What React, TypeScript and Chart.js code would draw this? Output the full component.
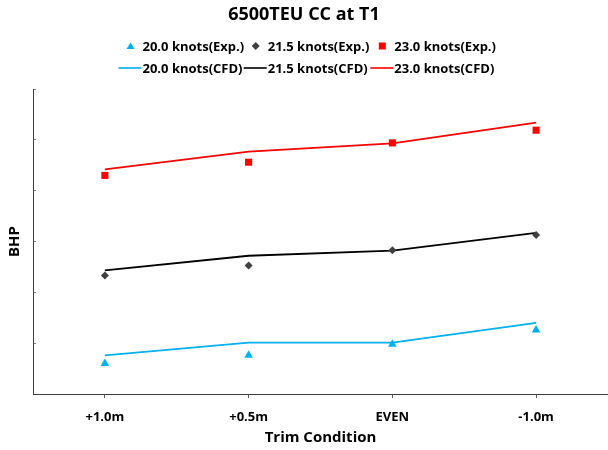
import React, { useEffect, useRef } from 'react';
import { Chart, registerables } from 'chart.js';

Chart.register(...registerables);

const categories = ['+1.0m', '+0.5m', 'EVEN', '-1.0m'];

const exp20 = [0.6, 0.76, 0.98, 1.26];
const exp215 = [2.33, 2.53, 2.83, 3.13];
const exp23 = [4.3, 4.56, 4.94, 5.19];

const cfd20 = [0.76, 1.01, 1.01, 1.4];
const cfd215 = [2.43, 2.72, 2.82, 3.17];
const cfd23 = [4.42, 4.77, 4.93, 5.34];

const expLabels = ['20.0 knots(Exp.)', '21.5 knots(Exp.)', '23.0 knots(Exp.)'];
const cfdLabels = ['20.0 knots(CFD)', '21.5 knots(CFD)', '23.0 knots(CFD)'];

const titleText = '6500TEU CC at T1';
const xTitle = 'Trim Condition';
const yTitle = 'BHP';

const yMin = 0;
const yMax = 6;

const BLUE = '#00B0F0';
const BLACK = '#000000';
const GREY = '#404040';
const RED = '#FF0000';
const FONT = "'Open Sans', sans-serif";

function drawMarker(ctx: CanvasRenderingContext2D, style: string, x: number, y: number, color: string) {
  ctx.fillStyle = color;
  ctx.beginPath();
  if (style === 'triangle') {
    ctx.moveTo(x, y - 3.5);
    ctx.lineTo(x + 4, y + 3);
    ctx.lineTo(x - 4, y + 3);
  } else if (style === 'rectRot') {
    ctx.moveTo(x, y - 4);
    ctx.lineTo(x + 4, y);
    ctx.lineTo(x, y + 4);
    ctx.lineTo(x - 4, y);
  } else {
    ctx.rect(x - 3.5, y - 3.5, 7, 7);
  }
  ctx.closePath();
  ctx.fill();
}

export default function App() {
  const ref = useRef<HTMLCanvasElement>(null);

  useEffect(() => {
    document.body.style.margin = '0';
    const canvas = ref.current;
    if (!canvas) return;

    const legendPlugin = {
      id: 'twoRowLegend',
      afterDraw(chart: any) {
        const ctx: CanvasRenderingContext2D = chart.ctx;
        const cols = [142.5, 267.7, 394.3];
        const row1 = 46;
        const row2 = 68;
        ctx.save();
        ctx.font = `bold 13px ${FONT}`;
        ctx.textBaseline = 'middle';
        ctx.textAlign = 'left';
        chart.data.datasets.forEach((ds: any, i: number) => {
          const col = i % 3;
          const x = cols[col];
          if (i < 3) {
            drawMarker(ctx, ds.pointStyle, x - 12, row1, ds.backgroundColor);
            ctx.fillStyle = '#000';
            ctx.fillText(ds.label, x, row1 + 1);
          } else {
            ctx.strokeStyle = ds.borderColor;
            ctx.lineWidth = 1.6;
            ctx.beginPath();
            ctx.moveTo(x - 24, row2);
            ctx.lineTo(x - 1, row2);
            ctx.stroke();
            ctx.fillStyle = '#000';
            ctx.fillText(ds.label, x, row2 + 1);
          }
        });
        ctx.restore();
      },
    };

    const chart = new Chart(canvas, {
      type: 'line',
      data: {
        labels: categories,
        datasets: [
          { label: expLabels[0], data: exp20, showLine: false, pointStyle: 'triangle', pointRadius: 5, backgroundColor: BLUE, borderColor: BLUE, pointBorderWidth: 0 },
          { label: expLabels[1], data: exp215, showLine: false, pointStyle: 'rectRot', pointRadius: 4, backgroundColor: GREY, borderColor: GREY, pointBorderWidth: 0 },
          { label: expLabels[2], data: exp23, showLine: false, pointStyle: 'rect', pointRadius: 5, backgroundColor: RED, borderColor: RED, pointBorderWidth: 0 },
          { label: cfdLabels[0], data: cfd20, borderColor: BLUE, backgroundColor: BLUE, borderWidth: 1.8, pointRadius: 0, tension: 0 },
          { label: cfdLabels[1], data: cfd215, borderColor: BLACK, backgroundColor: BLACK, borderWidth: 1.8, pointRadius: 0, tension: 0 },
          { label: cfdLabels[2], data: cfd23, borderColor: RED, backgroundColor: RED, borderWidth: 1.8, pointRadius: 0, tension: 0 },
        ] as any,
      },
      options: {
        responsive: false,
        animation: false,
        devicePixelRatio: 1,
        layout: { autoPadding: false, padding: { left: 0, right: 0, top: 0, bottom: 0 } },
        plugins: {
          legend: { display: false },
          tooltip: { enabled: false },
          title: {
            display: true,
            text: titleText,
            color: '#000',
            font: { family: FONT, weight: 'bold', size: 18 },
            padding: { top: 4, bottom: 63.4 },
          },
        },
        scales: {
          x: {
            type: 'category',
            offset: true,
            grid: { display: true, drawOnChartArea: false, drawTicks: true, tickLength: 4, color: '#595959' },
            border: { display: true, color: GREY, width: 1 },
            ticks: { color: '#000', font: { family: FONT, weight: 'bold', size: 13 }, padding: 11, maxRotation: 0 },
            title: { display: true, text: xTitle, color: '#000', font: { family: FONT, weight: 'bold', size: 15 }, padding: { top: 0, bottom: 3 } },
            afterFit: (scale: any) => { scale.height = 56; },
          },
          y: {
            min: yMin,
            max: yMax,
            ticks: { display: false, stepSize: 1 },
            grid: { display: true, drawOnChartArea: false, drawTicks: true, tickLength: -3, color: '#7f7f7f' },
            border: { display: true, color: GREY, width: 1 },
            title: { display: true, text: yTitle, color: '#000', font: { family: FONT, weight: 'bold', size: 15 }, padding: { top: 6, bottom: 0 } },
            afterFit: (scale: any) => { scale.width = 33; },
          },
        },
      } as any,
      plugins: [legendPlugin],
    });

    return () => chart.destroy();
  }, []);

  return (
    <div style={{ width: 608, height: 450 }}>
      <canvas ref={ref} width={608} height={450} style={{ display: 'block' }} />
    </div>
  );
}
